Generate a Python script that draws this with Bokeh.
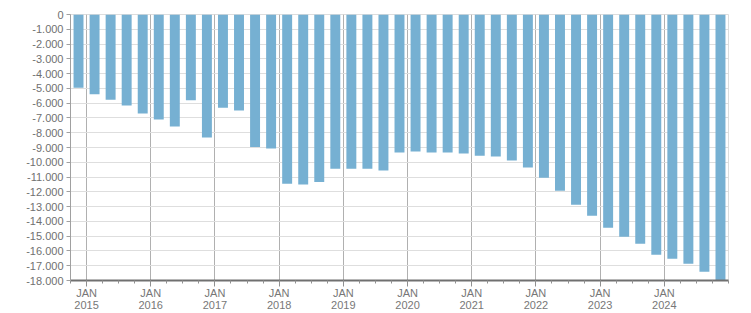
from bokeh.plotting import figure
from bokeh.models import Range1d, FixedTicker, ColumnDataSource
from bokeh.embed import file_html
from bokeh.resources import INLINE

quarters = ["2014-Q4"] + [f"{y}-Q{q}" for y in range(2015, 2025) for q in range(1, 5)]
values = [
    -4950, -5400, -5770, -6150, -6700, -7100, -7580, -5810, -8320, -6310,
    -6490, -8960, -9070, -11460, -11510, -11330, -10430, -10430, -10430, -10560,
    -9340, -9270, -9340, -9340, -9410, -9550, -9610, -9880, -10360, -11040,
    -11920, -12870, -13620, -14430, -15040, -15510, -16260, -16530, -16870, -17410,
    -18050,
]
years = list(range(2015, 2025))
y_ticks = list(range(-18000, 1, 1000))

# x position: quarter index, JAN 2015 boundary at 0, bar centred in its quarter
xs = [i - 0.5 for i in range(len(quarters))]
src = ColumnDataSource(dict(x=xs, v=values, q=quarters))

p = figure(width=751, height=313, output_backend="svg", toolbar_location=None,
           x_range=Range1d(-1, 40), y_range=Range1d(-18000, 0),
           min_border_left=70, min_border_right=23, min_border_top=14, min_border_bottom=33)
p.background_fill_color = "white"
p.border_fill_color = "white"
p.outline_line_color = "#dddddd"

p.vbar(x="x", top=0, bottom="v", width=0.62, source=src, color="#76b0d2", line_color=None)

major_x = [4 * (y - 2015) for y in years]
p.xaxis.ticker = FixedTicker(ticks=major_x, minor_ticks=list(range(-1, 41)))
p.xaxis.major_label_overrides = {4 * (y - 2015): f"JAN\n{y}" for y in years}
p.xaxis.axis_line_color = "#707070"
p.xaxis.axis_line_width = 2
p.xaxis.major_tick_line_color = "#909090"
p.xaxis.minor_tick_line_color = "#909090"
p.xaxis.major_tick_out = 6
p.xaxis.major_tick_in = 0
p.xaxis.minor_tick_out = 3
p.xaxis.minor_tick_in = 0
p.xaxis.major_label_standoff = 0
p.xaxis.major_label_text_font = "Liberation Sans"
p.xaxis.major_label_text_font_size = "11px"
p.xaxis.major_label_text_color = "#777777"
p.xaxis.major_label_text_line_height = 1.0

p.yaxis.ticker = FixedTicker(ticks=y_ticks, minor_ticks=[])
p.yaxis.major_label_overrides = {v: f"{v:,}".replace(",", ".") for v in y_ticks}
p.yaxis.axis_line_color = "#a0a0a0"
p.yaxis.major_tick_line_color = "#a0a0a0"
p.yaxis.major_tick_out = 4
p.yaxis.major_tick_in = 0
p.yaxis.major_label_standoff = 3
p.yaxis.major_label_text_font = "Liberation Sans"
p.yaxis.major_label_text_font_size = "11px"
p.yaxis.major_label_text_color = "#707070"

p.xgrid.ticker = FixedTicker(ticks=major_x)
p.xgrid.grid_line_color = "#b0b0b0"
p.ygrid.ticker = FixedTicker(ticks=y_ticks)
p.ygrid.grid_line_color = "#dedede"

open("out.html", "w").write(file_html(p, INLINE))
